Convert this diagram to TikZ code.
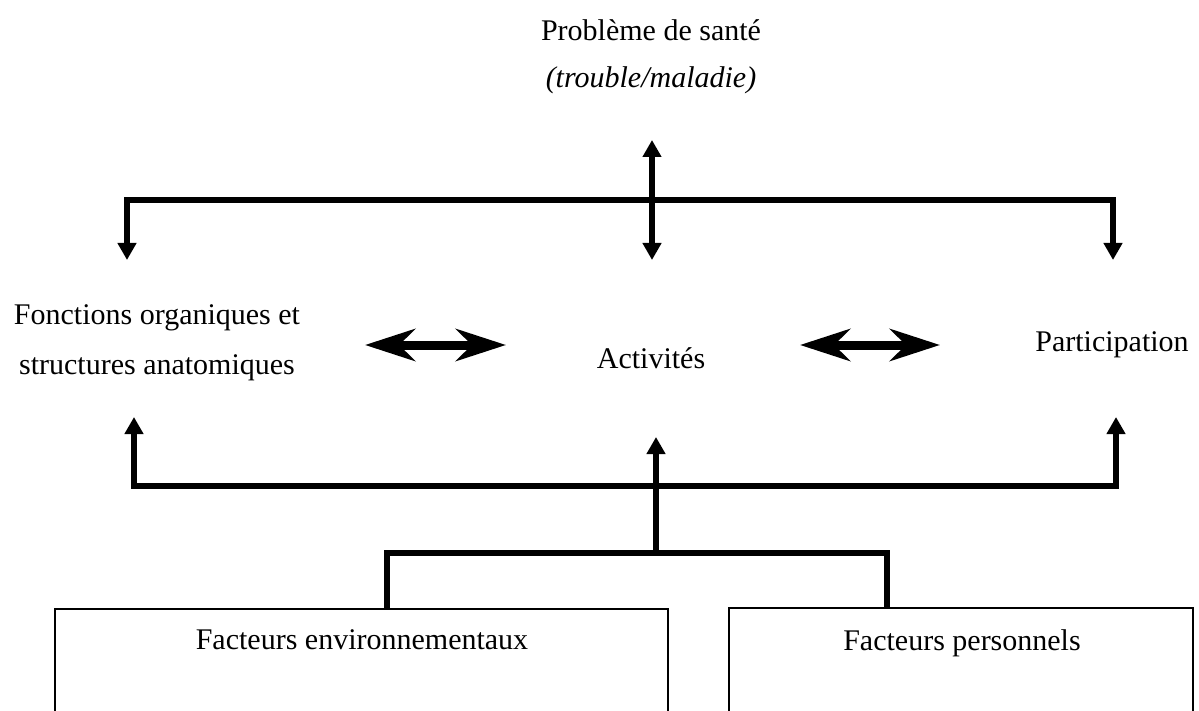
\documentclass[tikz,border=0pt]{standalone}
\usepackage{fontspec}
\setmainfont{Liberation Serif}
\usetikzlibrary{arrows.meta}
\begin{document}
\begin{tikzpicture}[x=1pt,y=-1pt,
  txt/.style={font=\fontsize{30}{50}\selectfont, inner sep=0pt, align=center},
  link/.style={line width=5.5pt, line join=miter},
  tri/.style={-{Triangle[length=17pt,width=18pt]}},
  tritri/.style={{Triangle[length=17pt,width=18pt]}-{Triangle[length=17pt,width=18pt]}},
  fat/.style={line width=9pt, {Stealth[length=50pt,width=32pt,inset=16pt]}-{Stealth[length=50pt,width=32pt,inset=16pt]}},
  boxstyle/.style={draw, line width=1.5pt, minimum width=613pt, minimum height=140pt, anchor=north, inner sep=0pt}]
\clip (0,0) rectangle (1199,711);
% texts
\node[txt] (sante) at (651,30) {Problème de santé};
\node[txt, font=\fontsize{30}{50}\selectfont\itshape] (trouble) at (651,80) {(trouble/maladie)};
\node[txt] (fonct) at (157,343) {Fonctions organiques et\\structures anatomiques};
\node[txt] (activ) at (651,358) {Activités};
\node[txt] (partic) at (1112,345) {Participation};
% boxes
\node[boxstyle] (envbox) at (361.5,608) {};
\node[boxstyle, minimum width=464pt] (persbox) at (961,607) {};
\node[txt] (envtxt) at (362,640) {Facteurs environnementaux};
\node[txt] (perstxt) at (962,643) {Facteurs personnels};
% junction coordinates
\coordinate (hup) at (652,140);
\coordinate (hdown) at (652,260);
\coordinate (ftop) at (127,260);
\coordinate (ptop) at (1113,260);
\coordinate (fbot) at (134,417);
\coordinate (pbot) at (1116,417);
\coordinate (abot) at (656,437);
\coordinate (bl) at (387,553);
\coordinate (br) at (887,553);
\coordinate (bm) at (656,553);
% top distribution
\draw[link, tritri] (ftop) |- (600,200) -| (ptop);
\draw[link, tritri] (hup) -- (hdown);
% bottom distribution
\draw[link, tritri] (fbot) |- (600,486) -| (pbot);
\draw[link, tri] (bm) -- (abot);
% bracket to boxes
\draw[link] (bl |- envbox.north) -- (bl) -- (br) -- (br |- persbox.north);
% horizontal double arrows
\coordinate (d1a) at (365,345); \coordinate (d1b) at (506,345);
\coordinate (d2a) at (800,345); \coordinate (d2b) at (940,345);
\draw[fat] (d1a) -- (d1b);
\draw[fat] (d2a) -- (d2b);
\end{tikzpicture}
\end{document}
